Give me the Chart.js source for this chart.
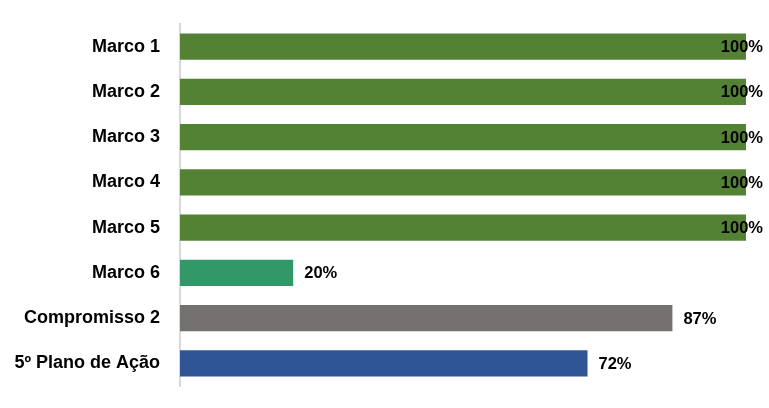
<!DOCTYPE html>
<html>
<head>
<meta charset="utf-8">
<script src="https://cdn.jsdelivr.net/npm/chart.js@4.4.1/dist/chart.umd.min.js"></script>
<style>
  html, body { margin: 0; padding: 0; background: #fff; }
  #wrap { width: 769px; height: 408px; }
</style>
</head>
<body>
<div id="wrap"><canvas id="chart" width="769" height="408"></canvas></div>
<script>
// categorias e valores (%)
const categories = ['Marco 1', 'Marco 2', 'Marco 3', 'Marco 4', 'Marco 5', 'Marco 6', 'Compromisso 2', '5º Plano de Ação'];
const values = [100, 100, 100, 100, 100, 20, 87, 72];
const barColors = ['#548235', '#548235', '#548235', '#548235', '#548235', '#329868', '#767171', '#2F5597'];

const FONT = '"Liberation Sans", Arial, sans-serif';

// rótulos de dados no fim da barra (como no Excel)
const endLabels = {
    id: 'endLabels',
    afterDatasetsDraw(chart) {
        const ctx = chart.ctx;
        const meta = chart.getDatasetMeta(0);
        ctx.save();
        ctx.font = 'bold 16.5px ' + FONT;
        ctx.fillStyle = '#000';
        ctx.textBaseline = 'middle';
        ctx.textAlign = 'left';
        meta.data.forEach((bar, i) => {
            const txt = values[i] + '%';
            const w = ctx.measureText(txt).width;
            let x = bar.x + 11;
            if (x + w > chart.width - 6) x = chart.width - 6 - w;
            ctx.fillText(txt, x, bar.y + 1);
        });
        ctx.restore();
    }
};

new Chart(document.getElementById('chart'), {
    type: 'bar',
    data: {
        labels: categories,
        datasets: [{
            data: values,
            backgroundColor: barColors,
            borderWidth: 0,
            barPercentage: 0.575,
            categoryPercentage: 1
        }]
    },
    options: {
        responsive: false,
        animation: false,
        indexAxis: 'y',
        layout: { padding: { left: 0, right: 23, top: 24, bottom: 22 } },
        plugins: { legend: { display: false }, tooltip: { enabled: false } },
        scales: {
            x: { display: false, min: 0, max: 100 },
            y: {
                afterFit: s => { s.width = 180; s.paddingTop = 0; s.paddingBottom = 0; },
                grid: { display: false, drawTicks: false },
                border: { display: true, color: '#d9d9d9', width: 2 },
                ticks: { color: '#000', padding: 20, font: { family: FONT, size: 18, weight: 'bold' } }
            }
        }
    },
    plugins: [endLabels]
});
</script>
</body>
</html>
